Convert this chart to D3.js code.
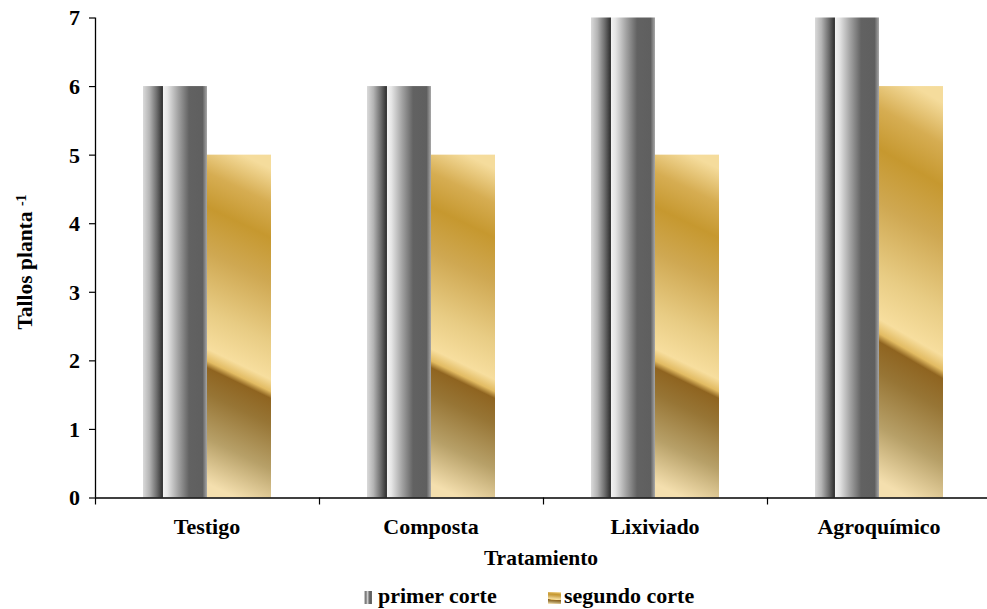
<!DOCTYPE html>
<html>
<head>
<meta charset="utf-8">
<script src="https://cdn.jsdelivr.net/npm/d3@7"></script>
<style>
  html, body { margin: 0; padding: 0; background: #fff; }
  svg { display: block; }
  svg text { font-family: "Liberation Serif", "Times New Roman", Times, "DejaVu Serif", serif !important; font-weight: bold; fill: #000; }
</style>
</head>
<body>
<svg id="chart" width="987" height="609"></svg>
<script>
// Tallos por planta, por tratamiento y corte
const categories = ["Testigo", "Composta", "Lixiviado", "Agroquímico"];
const series = ["primer corte", "segundo corte"];
const primerCorte = [6, 6, 7, 7];
const segundoCorte = [5, 5, 5, 6];
const yTicks = [0, 1, 2, 3, 4, 5, 6, 7];

const FONT = '"Liberation Serif", "Times New Roman", Times, "DejaVu Serif", serif';
const svg = d3.select("#chart").attr("font-family", FONT);
const plotLeft = 95, plotTop = 17.5, plotBottom = 497.5, bandW = 224;

// Gradients: metallic grey cylinder and "gold" diagonal fill
const defs = svg.append("defs");
const grey = defs.append("linearGradient").attr("id", "g-grey")
  .attr("x1", 0).attr("y1", 0).attr("x2", 1).attr("y2", 0);
[[0, "#dadada"], [0.1, "#b4b4b4"], [0.22, "#6a6a6a"], [0.29, "#3a3a3a"], [0.305, "#3a3a3a"],
 [0.32, "#f2f2f2"], [0.38, "#e6e6e6"], [0.55, "#a2a2a2"], [0.72, "#626262"], [0.93, "#5f5f5f"], [1, "#a8a8a8"]]
  .forEach(([o, c]) => grey.append("stop").attr("offset", o).attr("stop-color", c));

const gold = defs.append("linearGradient").attr("id", "g-gold")
  .attr("x1", 0.545).attr("y1", 0).attr("x2", 0.455).attr("y2", 1);
[[0, "#f5dc9c"], [0.1, "#d6ad52"], [0.2, "#c6982f"], [0.33, "#cfa852"], [0.5, "#e8cc84"],
 [0.61, "#f7de9e"], [0.645, "#e2bb62"], [0.665, "#8f6420"], [0.74, "#977535"], [0.87, "#b7a068"], [1, "#f4dfae"]]
  .forEach(([o, c]) => gold.append("stop").attr("offset", o).attr("stop-color", c));

const fills = { "primer corte": "url(#g-grey)", "segundo corte": "url(#g-gold)" };

// Scales
const x = d3.scaleBand().domain(categories).range([plotLeft, plotLeft + bandW * categories.length]);
const xs = d3.scaleBand().domain(series).range([0, x.bandwidth()]).paddingInner(0).paddingOuter(0.75);
const y = d3.scaleLinear().domain([0, 7]).range([plotBottom, plotTop]);

// Bars
const rows = categories.map((c, i) => ({ cat: c, vals: [
  { s: series[0], v: primerCorte[i] }, { s: series[1], v: segundoCorte[i] }] }));
const g = svg.append("g");
g.selectAll("g.grp").data(rows).join("g").attr("class", "grp")
  .attr("transform", d => `translate(${x(d.cat)},0)`)
  .selectAll("rect").data(d => d.vals).join("rect")
  .attr("x", d => xs(d.s))
  .attr("width", xs.bandwidth())
  .attr("y", d => y(d.v))
  .attr("height", d => y(0) - y(d.v))
  .attr("fill", d => fills[d.s]);

// Y axis
const yAxis = svg.append("g").attr("transform", `translate(${plotLeft},0)`)
  .call(d3.axisLeft(y).tickValues(yTicks).tickFormat(d3.format("d")).tickSize(6).tickPadding(9))
  .attr("font-family", FONT);
yAxis.select(".domain").attr("stroke", "#000").attr("stroke-width", 1.3).attr("d", `M0.5,${plotTop}V${plotBottom}`);
yAxis.selectAll(".tick line").attr("stroke", "#000").attr("stroke-width", 1.2);
yAxis.selectAll(".tick text").style("font-size", "22px").attr("dy", "0.34em").attr("fill", "#000");

// X axis: labels at band centres, ticks at band boundaries
const xAxis = svg.append("g").attr("transform", `translate(0,${plotBottom})`)
  .call(d3.axisBottom(x).tickSize(0).tickPadding(21))
  .attr("font-family", FONT);
xAxis.select(".domain").attr("stroke", "#000").attr("stroke-width", 1.3).attr("d", `M${plotLeft},0.5H${x.range()[1]}`);
xAxis.selectAll(".tick text").style("font-size", "22px").attr("dy", "0.71em").attr("fill", "#000");
const bounds = categories.map(c => x(c)).concat([x.range()[1]]);
xAxis.selectAll("line.bound").data(bounds).join("line").attr("class", "bound")
  .attr("x1", d => d + 0.5).attr("x2", d => d + 0.5).attr("y1", 0).attr("y2", 7)
  .attr("stroke", "#000").attr("stroke-width", 1.2);

// Axis titles
svg.append("text").attr("x", 541).attr("y", 565).attr("text-anchor", "middle")
  .style("font-size", "21.5px").text("Tratamiento");
const yt = svg.append("text").attr("transform", "translate(32,262) rotate(-90)")
  .attr("text-anchor", "middle").style("font-size", "21.5px");
yt.append("tspan").text("Tallos planta ");
yt.append("tspan").attr("dy", "-0.45em").style("font-size", "14px").text("-1");

// Legend
const legend = svg.append("g");
legend.append("rect").attr("x", 364).attr("y", 591).attr("width", 8).attr("height", 13).attr("fill", fills[series[0]]);
legend.append("text").attr("x", 378).attr("y", 603).style("font-size", "22px").text(series[0]);
legend.append("rect").attr("x", 548).attr("y", 592).attr("width", 13).attr("height", 12).attr("fill", fills[series[1]]);
legend.append("text").attr("x", 564).attr("y", 603).style("font-size", "22px").text(series[1]);
</script>
</body>
</html>
